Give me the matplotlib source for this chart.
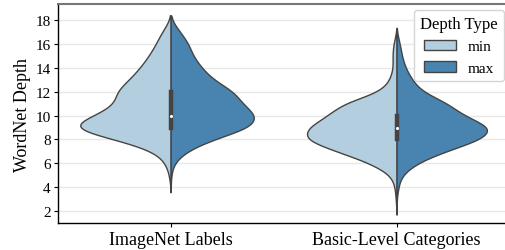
import numpy as np
import pandas as pd
import matplotlib
matplotlib.use("Agg")
import matplotlib.pyplot as plt
import seaborn as sns

plt.rcParams["font.family"] = ["Liberation Serif", "DejaVu Serif"]

depths = np.arange(2, 19)
groups = ["ImageNet Labels", "Basic-Level Categories"]
depth_types = ["min", "max"]

# number of labels found at each WordNet depth (2 .. 18)
imagenet_min = [0, 0, 0, 3, 10, 30, 110, 225, 155, 110, 115, 85, 63, 45, 30, 19, 0]
imagenet_max = [0, 0, 0, 1, 5, 30, 84, 169, 180, 145, 133, 86, 64, 45, 38, 20, 0]
basic_min = [0, 1, 2, 6, 30, 70, 110, 105, 80, 65, 18, 8, 4, 5, 4, 0, 0]
basic_max = [0, 0, 2, 5, 22, 55, 100, 115, 75, 62, 28, 18, 10, 6, 4, 0, 0]

counts = {
    ("ImageNet Labels", "min"): imagenet_min,
    ("ImageNet Labels", "max"): imagenet_max,
    ("Basic-Level Categories", "min"): basic_min,
    ("Basic-Level Categories", "max"): basic_max,
}

rows = []
for (g, t), c in counts.items():
    for d in np.repeat(depths, c):
        rows.append((g, t, d))
df = pd.DataFrame(rows, columns=["group", "Depth Type", "depth"])

fig = plt.figure(figsize=(5.06, 2.51), dpi=100)
ax = fig.add_axes([0.114, 0.1076, 0.893, 0.872])

# widths are scaled within each group (old scale_hue behaviour)
for i, g in enumerate(groups):
    sns.violinplot(data=df[df["group"] == g], x="group", y="depth",
                   hue="Depth Type", order=groups, hue_order=depth_types,
                   split=True, inner=None, palette="Blues", linewidth=1,
                   linecolor="#444444", common_norm=True, bw_adjust=1.15,
                   legend=(i == 0), ax=ax)

# one box for both depth types, drawn on the split line
for i, g in enumerate(groups):
    vals = df.loc[df["group"] == g, "depth"].to_numpy()
    q1, med, q3 = np.percentile(vals, [25, 50, 75])
    ax.plot([i, i], [q1, q3], color="#444444", lw=3.2,
            solid_capstyle="projecting", zorder=3)
    ax.scatter([i], [med], s=5, color="white", zorder=4, linewidths=0)

ax.set_ylim(1.0, 19.35)
ax.set_xlim(-0.5, 1.5)
ax.set_yticks(np.arange(2, 19, 2))
ax.yaxis.grid(True, color="#e8e8e8", lw=1)
ax.xaxis.grid(False)
ax.set_axisbelow(True)

ax.set_xlabel("")
ax.set_ylabel("WordNet Depth", fontsize=13, labelpad=3)
ax.tick_params(axis="y", labelsize=11, length=3, width=0.8, pad=2)
ax.tick_params(axis="x", labelsize=13, length=3, width=0.8, pad=3)

for s in ["left", "bottom"]:
    ax.spines[s].set_color("black")
    ax.spines[s].set_linewidth(1)
ax.spines["top"].set_color("#777777")
ax.spines["top"].set_linewidth(1.5)
ax.spines["right"].set_visible(False)

sns.move_legend(ax, "upper right", bbox_to_anchor=(504 / 506, 1 - 11 / 251),
                bbox_transform=fig.transFigure, title="Depth Type",
                fontsize=11, title_fontsize=12, borderaxespad=0,
                handlelength=2.1, frameon=True, edgecolor="#d5d5d5",
                framealpha=1)

fig.savefig("out.png", dpi=100)
